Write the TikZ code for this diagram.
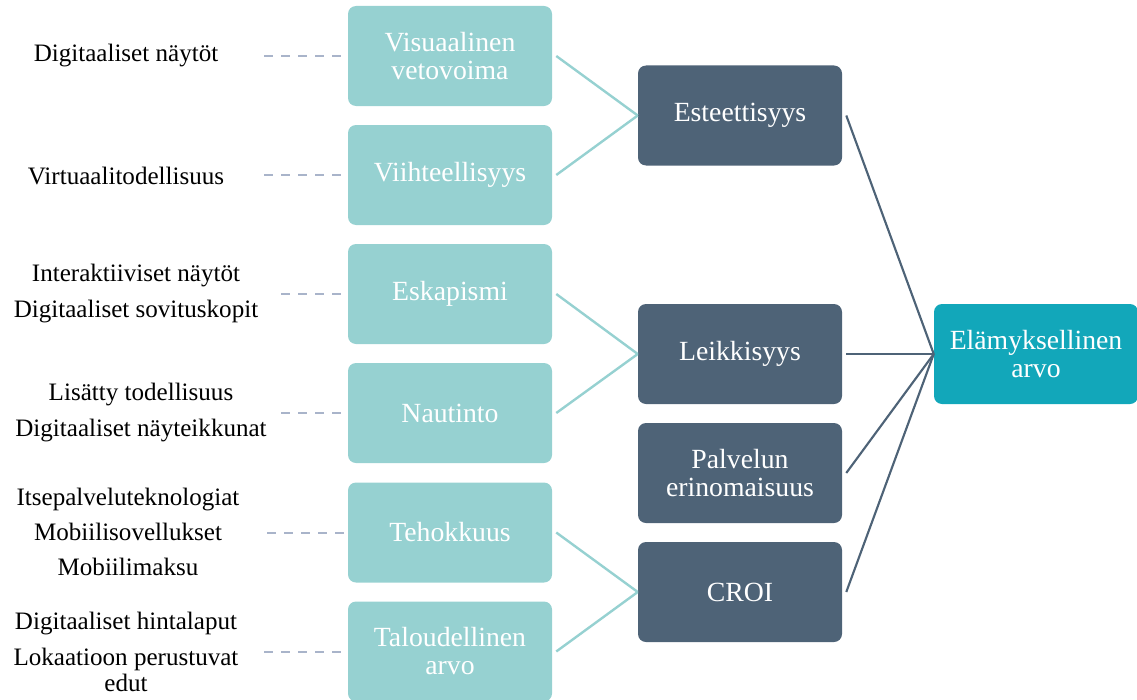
\documentclass[tikz,border=0pt]{standalone}
\usepackage{fontspec}
\setmainfont{Liberation Serif}
\definecolor{lightteal}{HTML}{96D1D1}
\definecolor{slate}{HTML}{4E6377}
\definecolor{brightteal}{HTML}{12A7BA}
\definecolor{dashgray}{HTML}{A9B4CA}
\begin{document}
\begin{tikzpicture}[x=0.75pt,y=-0.75pt,
  box/.style={rounded corners=6pt, minimum width=153pt, minimum height=75pt,
    inner sep=2pt, align=center, text=white,
    font=\fontsize{20.8}{21}\selectfont},
  factor/.style={box, fill=lightteal},
  dimension/.style={box, fill=slate},
  result/.style={box, fill=brightteal},
  tech/.style={align=center, text=black, font=\fontsize{18.8}{19.5}\selectfont},
  lightlink/.style={draw=lightteal, line width=1.8pt},
  darklink/.style={draw=slate, line width=1.6pt},
  dashlink/.style={draw=dashgray, line width=1.8pt, dash pattern=on 6.8pt off 6pt}]
\useasboundingbox (0,0) rectangle (1137,699);

% experience factors
\node[factor] (v1) at (450,56)    {Visuaalinen\\vetovoima};
\node[factor] (v2) at (450,175)   {Viihteellisyys};
\node[factor] (v3) at (450,294)   {Eskapismi};
\node[factor] (v4) at (450,413)   {Nautinto};
\node[factor] (v5) at (450,532.5) {Tehokkuus};
\node[factor] (v6) at (450,651.5) {Taloudellinen\\arvo};

% value dimensions
\node[dimension] (d1) at (740,115.5) {Esteettisyys};
\node[dimension] (d2) at (740,354)   {Leikkisyys};
\node[dimension] (d3) at (740,473)   {Palvelun\\erinomaisuus};
\node[dimension] (d4) at (740,592)   {CROI};

% overall value
\node[result] (r) at (1036,354) {Elämyksellinen\\arvo};

% technologies
\node[tech] (t1) at (126,56)  {Digitaaliset näytöt};
\node[tech] (t2) at (126,176) {Virtuaalitodellisuus};
\node[tech] (t3) at (136,294) {Interaktiiviset näytöt\\[7.5pt]Digitaaliset sovituskopit};
\node[tech] (t4) at (141,413) {Lisätty todellisuus\\[7.5pt]Digitaaliset näyteikkunat};
\node[tech] (t5) at (128,532) {Itsepalveluteknologiat\\[7pt]Mobiilisovellukset\\[7pt]Mobiilimaksu};
\node[tech] (t6) at (126,652) {Digitaaliset hintalaput\\[7.5pt]Lokaatioon perustuvat\\edut};

% dashed links from technologies to factors
\coordinate (s1) at (264,56);
\coordinate (s2) at (264,175);
\coordinate (s3) at (281,294);
\coordinate (s4) at (281,413);
\coordinate (s5) at (267,533);
\coordinate (s6) at (264,652);
\foreach \i in {1,...,6} {
  \draw[dashlink] (s\i) -- ([xshift=-2]s\i -| v\i.west);
}

% factors to dimensions
\draw[lightlink] ([xshift=3]v1.east) -- (d1.west);
\draw[lightlink] ([xshift=3]v2.east) -- (d1.west);
\draw[lightlink] ([xshift=3]v3.east) -- (d2.west);
\draw[lightlink] ([xshift=3]v4.east) -- (d2.west);
\draw[lightlink] ([xshift=3]v5.east) -- (d4.west);
\draw[lightlink] ([xshift=3]v6.east) -- (d4.west);

% dimensions to overall value
\foreach \i in {1,...,4} {
  \draw[darklink] ([xshift=3]d\i.east) -- (r.west);
}
\end{tikzpicture}
\end{document}
